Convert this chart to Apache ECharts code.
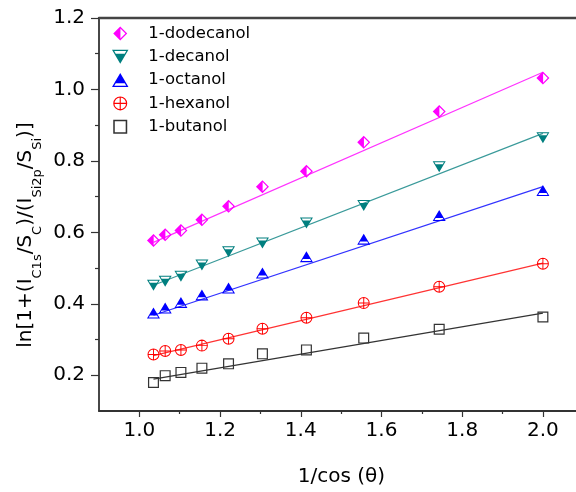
<!DOCTYPE html>
<html>
<head>
<meta charset="utf-8">
<script src="https://cdn.jsdelivr.net/npm/echarts@6/dist/echarts.min.js"></script>
<style>
  html, body { margin: 0; padding: 0; background: #fff; }
  #chart { width: 576px; height: 492px; }
</style>
</head>
<body>
<div id="chart"></div>
<script>
// 1/cos(theta) values
const xValues = [1.035, 1.064, 1.103, 1.155, 1.221, 1.305, 1.414, 1.556, 1.743, 2.0]

const names = ['1-dodecanol', '1-decanol', '1-octanol', '1-hexanol', '1-butanol']
const dodecanol = [0.577, 0.593, 0.605, 0.635, 0.673, 0.728, 0.771, 0.852, 0.938, 1.032]
const decanol = [0.452, 0.463, 0.477, 0.509, 0.546, 0.570, 0.626, 0.675, 0.784, 0.865]
const octanol = [0.374, 0.388, 0.404, 0.425, 0.444, 0.486, 0.532, 0.581, 0.647, 0.717]
const hexanol = [0.258, 0.268, 0.271, 0.283, 0.302, 0.330, 0.361, 0.402, 0.448, 0.512]
const butanol = [0.180, 0.199, 0.208, 0.220, 0.232, 0.260, 0.271, 0.304, 0.329, 0.363]

// fitted lines: end points
const fitX = [1.035, 2.0]
const fitDodecanol = [0.572, 1.048]
const fitDecanol = [0.452, 0.877]
const fitOctanol = [0.368, 0.728]
const fitHexanol = [0.255, 0.514]
const fitButanol = [0.189, 0.374]

const xTicks = [1.0, 1.2, 1.4, 1.6, 1.8, 2.0]
const xMinorTicks = [1.1, 1.3, 1.5, 1.7, 1.9]
const yTicks = [0.2, 0.4, 0.6, 0.8, 1.0, 1.2]
const yMinorTicks = [0.3, 0.5, 0.7, 0.9, 1.1]

const allValues = [dodecanol, decanol, octanol, hexanol, butanol]
const allFits = [fitDodecanol, fitDecanol, fitOctanol, fitHexanol, fitButanol]

const markerColors = ['#ff00ff', '#007f7f', '#0000ff', '#ff0000', '#333333']
const lineColors = ['#ff33ff', '#3a9a9a', '#3333ff', '#ff3333', '#333333']

// symbols drawn by fill only; hollow parts are reversed sub paths
const symbols = [
  // diamond, left half filled
  'path://M0,-10 L10,0 L0,10 L-10,0 Z M0.3,-7.1 L0.3,7.1 L7.4,0 Z',
  // triangle down, top strip hollow
  'path://M-10,-8.5 L10,-8.5 L0,8.5 Z M-7.26,-6.9 L-5.44,-3.8 L5.44,-3.8 L7.26,-6.9 Z',
  // triangle up, bottom strip hollow
  'path://M0,-8.5 L10,8.5 L-10,8.5 Z M-5.44,3.8 L-7.26,6.9 L7.26,6.9 L5.44,3.8 Z',
  // circle with cross
  'path://M0,-10 A10,10 0 1,1 0,10 A10,10 0 1,1 0,-10 Z M0,-8.3 A8.3,8.3 0 1,0 0,8.3 A8.3,8.3 0 1,0 0,-8.3 Z M-9,-0.8 L9,-0.8 L9,0.8 L-9,0.8 Z M-0.8,-9 L0.8,-9 L0.8,9 L-0.8,9 Z',
  // open square
  'path://M-10,-10 L10,-10 L10,10 L-10,10 Z M-7.8,-7.8 L-7.8,7.8 L7.8,7.8 L7.8,-7.8 Z'
]
const symbolSizes = [[13, 13], [13, 11], [13, 11], 12, 11]

const font = 'DejaVu Sans'

const chart = echarts.init(document.getElementById('chart'))

const series = []
names.forEach((name, k) => {
  series.push({
    name: 'fit ' + name,
    type: 'line',
    data: fitX.map((x, i) => [x, allFits[k][i]]),
    symbol: 'none',
    silent: true,
    z: 1,
    lineStyle: { color: lineColors[k], width: 1.2 }
  })
})
names.forEach((name, k) => {
  series.push({
    name: name,
    type: 'scatter',
    data: xValues.map((x, i) => [x, allValues[k][i]]),
    symbol: symbols[k],
    symbolSize: symbolSizes[k],
    z: 3,
    itemStyle: { color: markerColors[k], opacity: 1, borderWidth: 0 }
  })
})

const tickLabel = { fontFamily: font, fontSize: 20, color: '#000' }
const xMin = 0.9
const xMax = 2.082 // the right part of the frame is cut off in the picture

const option = {
  animation: false,
  grid: { left: 99, right: 0, top: 18, bottom: 80 },
  legend: {
    data: names,
    orient: 'vertical',
    left: 107,
    top: 20,
    itemWidth: 46,
    itemHeight: 14,
    itemGap: 6.3,
    textStyle: { fontFamily: font, fontSize: 16.5, color: '#000' }
  },
  xAxis: [
    {
      type: 'value', min: xMin, max: xMax, position: 'bottom',
      name: '1/cos (θ)', nameLocation: 'middle', nameGap: 56,
      nameTextStyle: { fontFamily: font, fontSize: 20, color: '#000', padding: [0, 0, 0, 8] },
      axisLine: { onZero: false, lineStyle: { color: '#333', width: 1.8 } },
      axisTick: { customValues: xTicks, length: 6, lineStyle: { color: '#333', width: 1.2 } },
      axisLabel: Object.assign({ customValues: xTicks, margin: 10, formatter: v => v.toFixed(1) }, tickLabel),
      splitLine: { show: false }
    },
    {
      type: 'value', min: xMin, max: xMax, position: 'bottom',
      axisLine: { show: false },
      axisTick: { customValues: xMinorTicks, length: 3, lineStyle: { color: '#333', width: 1.2 } },
      axisLabel: { show: false },
      splitLine: { show: false }
    },
    {
      type: 'value', min: xMin, max: xMax, position: 'top',
      axisLine: { onZero: false, lineStyle: { color: '#444', width: 2.4 } },
      axisTick: { show: false },
      axisLabel: { show: false },
      splitLine: { show: false }
    }
  ],
  yAxis: [
    {
      type: 'value', min: 0.1, max: 1.2, position: 'left',
      axisLine: { show: true, onZero: false, lineStyle: { color: '#333', width: 1.8 } },
      axisTick: { show: true, customValues: yTicks, length: 8, lineStyle: { color: '#333', width: 1.2 } },
      axisLabel: Object.assign({ customValues: yTicks, margin: 14, formatter: v => v.toFixed(1) }, tickLabel),
      splitLine: { show: false }
    },
    {
      type: 'value', min: 0.1, max: 1.2, position: 'left',
      axisLine: { show: false },
      axisTick: { show: true, customValues: yMinorTicks, length: 4, lineStyle: { color: '#333', width: 1.2 } },
      axisLabel: { show: false },
      splitLine: { show: false }
    }
  ],
  graphic: [
    {
      type: 'text',
      x: 25.6,
      y: 235,
      rotation: Math.PI / 2,
      style: {
        text: '{n|ln[1+(I}{s|C1s}{n|/S}{s|C}{n|)/(I}{s|Si2p}{n|/S}{s|Si}{n|)]}',
        align: 'center',
        verticalAlign: 'middle',
        fill: '#000',
        rich: {
          n: { fontFamily: font, fontSize: 20, lineHeight: 40, verticalAlign: 'middle' },
          s: { fontFamily: font, fontSize: 13, lineHeight: 13, padding: [25, 0, 0, 0], verticalAlign: 'middle' }
        }
      }
    }
  ],
  series: series
}

chart.setOption(option)
</script>
</body>
</html>
